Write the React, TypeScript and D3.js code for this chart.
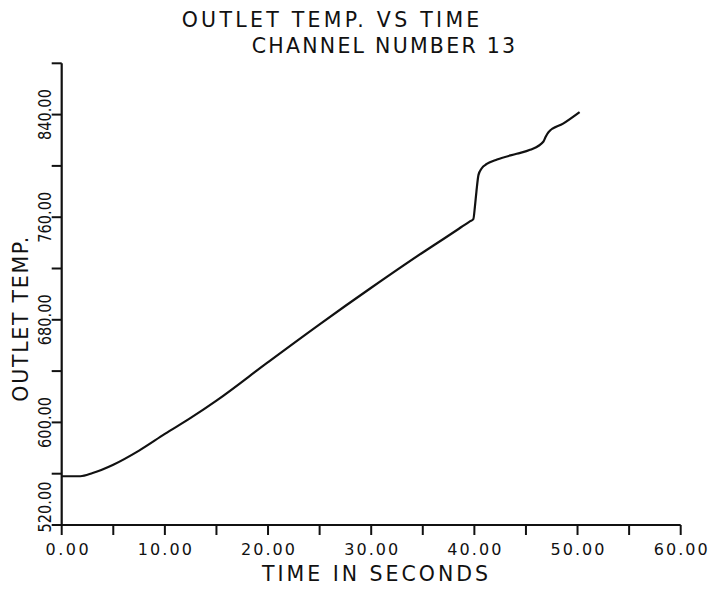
import React from "react";
import * as d3 from "d3";

// ---- data ----
const timeSec = [0, 1.8, 3, 5, 7.5, 10, 12.5, 15, 20, 25, 30, 35, 37, 38.5, 39.5, 39.9, 40.05, 40.2, 40.4, 40.7, 41.2, 42.2, 44.1, 45.4, 46.7, 46.9, 47.2, 48.6, 50.2];
const outletTemp = [558, 558, 560.5, 567, 578, 591, 603.5, 617, 647, 676.5, 705, 732.5, 743, 751, 756.4, 758.5, 768, 780, 793, 798, 801.5, 805, 809.5, 812.5, 819, 822.5, 826.5, 833, 842];

const xTickValues = [0, 5, 10, 15, 20, 25, 30, 35, 40, 45, 50, 55, 60];
const xLabelValues = [0, 10, 20, 30, 40, 50, 60];
const yTickValues = [520, 560, 600, 640, 680, 720, 760, 800, 840, 880];
const yLabelValues = [520, 600, 680, 760, 840];

const titleLines = ["OUTLET TEMP. VS TIME", "CHANNEL NUMBER 13"];
const xTitle = "TIME IN SECONDS";
const yTitle = "OUTLET TEMP.";

const W = 708;
const H = 590;
const FONT = "'DejaVu Sans', sans-serif";

export default function App() {
  const x = d3.scaleLinear().domain([0, 60]).range([61.7, 680.7]);
  const y = d3.scaleLinear().domain([520, 880]).range([525, 63.3]);
  const fmt = d3.format(".2f");

  const pts: [number, number][] = timeSec.map((t, i) => [t, outletTemp[i]]);
  const line = d3
    .line<[number, number]>()
    .x((d) => x(d[0]))
    .y((d) => y(d[1]))
    .curve(d3.curveMonotoneX);

  const x0 = x(0);
  const yBase = y(520);
  const ink = "#111";

  return (
    <svg
      width={W}
      height={H}
      viewBox={`0 0 ${W} ${H}`}
      style={{ position: "absolute", left: 0, top: 0, background: "#fff" }}
    >
      <rect x={0} y={0} width={W} height={H} fill="#fff" />

      {/* titles */}
      <text x={181.7} y={26.7} fontFamily={FONT} fontSize={20.5} fill={ink}
        textLength={297.6} lengthAdjust="spacing">{titleLines[0]}</text>
      <text x={251.7} y={53.3} fontFamily={FONT} fontSize={20.5} fill={ink}
        textLength={263.3} lengthAdjust="spacing">{titleLines[1]}</text>

      {/* axes */}
      <line x1={x0} x2={x0} y1={y(880)} y2={yBase} stroke={ink} strokeWidth={2.2} />
      <line x1={x0} x2={x(60)} y1={yBase} y2={yBase} stroke={ink} strokeWidth={2.2} />

      {yTickValues.map((v) => (
        <line key={"yt" + v} x1={x0 - 10} x2={x0} y1={y(v)} y2={y(v)} stroke={ink} strokeWidth={2} />
      ))}
      {xTickValues.map((v) => (
        <line key={"xt" + v} x1={x(v)} x2={x(v)} y1={yBase} y2={yBase + 10} stroke={ink} strokeWidth={2} />
      ))}

      {/* x tick labels (5-char fields, right aligned) */}
      {xLabelValues.map((v) => {
        const s = fmt(v);
        return (
          <text key={"xl" + v} x={x(v) + 27} y={555} textAnchor="end" fontFamily={FONT}
            fontSize={16} fill={ink} textLength={s.length * 10.8} lengthAdjust="spacing">{s}</text>
        );
      })}

      {/* y tick labels, rotated */}
      {yLabelValues.map((v, i) => {
        const s = fmt(v);
        const cy = i === 0 ? y(v) - 18 : y(v);
        return (
          <text key={"yl" + v} transform={`translate(51,${cy}) rotate(-90)`} textAnchor="middle"
            fontFamily={FONT} fontSize={17.5} fill={ink} textLength={51}
            lengthAdjust="spacingAndGlyphs">{s}</text>
        );
      })}

      {/* axis titles */}
      <text x={262} y={580.5} fontFamily={FONT} fontSize={20.5} fill={ink}
        textLength={226} lengthAdjust="spacing">{xTitle}</text>
      <text transform={`translate(28,401.7) rotate(-90)`} fontFamily={FONT} fontSize={20.5} fill={ink}
        textLength={165} lengthAdjust="spacing">{yTitle}</text>

      {/* curve */}
      <path d={line(pts) || ""} fill="none" stroke={ink} strokeWidth={2.2} strokeLinejoin="round" />
    </svg>
  );
}
